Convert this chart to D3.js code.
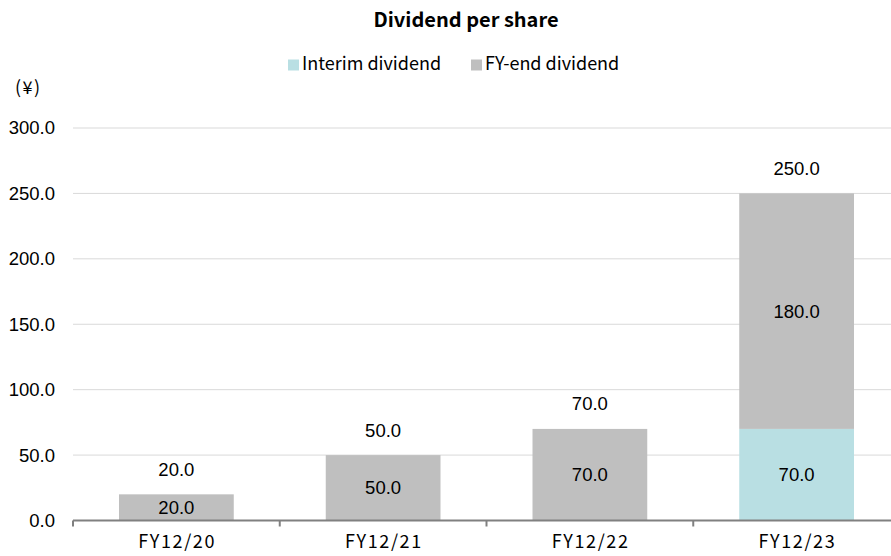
<!DOCTYPE html>
<html><head><meta charset="utf-8">
<script src="https://cdn.jsdelivr.net/npm/d3@7"></script>
<style>body{margin:0;background:#fff}</style>
</head><body><svg id="c" width="891" height="556"></svg>
<script>
const categories = ["FY12/20", "FY12/21", "FY12/22", "FY12/23"];
const interim = [0, 0, 0, 70];
const fyEnd = [20, 50, 70, 180];
const totals = [20, 50, 70, 250];
const yTicks = [0, 50, 100, 150, 200, 250, 300];
const seriesNames = ["Interim dividend", "FY-end dividend"];
const colors = ["#b9dfe3", "#bfbfbf"];

const svg = d3.select("#c");
const gothic = "'Noto Sans CJK JP', 'Noto Sans', sans-serif";
const num = "'Liberation Sans', Arial, sans-serif";
const numSize = 18.5;
const pLeft = 73, pRight = 900, pTop = 128, pBottom = 520.5;

const x = d3.scaleBand().domain(categories).range([pLeft, pRight]).paddingInner(0.445).paddingOuter(0.2225);
const y = d3.scaleLinear().domain([0, 300]).range([pBottom, pTop]);

// gridlines
svg.append("g").selectAll("line").data(yTicks.filter(d => d > 0)).join("line")
  .attr("x1", pLeft).attr("x2", 891).attr("y1", d => y(d)).attr("y2", d => y(d))
  .attr("stroke", "#d9d9d9").attr("stroke-width", 1);

// y axis labels
const ya = svg.append("g").attr("transform", `translate(${pLeft},0)`)
  .call(d3.axisLeft(y).tickValues(yTicks).tickFormat(d3.format(".1f")).tickSize(0).tickPadding(18));
ya.select(".domain").remove();
ya.selectAll("text").attr("font-family", num).attr("font-size", numSize).attr("fill", "#000");

// stacked data
const rows = categories.map((c, i) => ({cat: c, interim: interim[i], fyEnd: fyEnd[i]}));
const stack = d3.stack().keys(["interim", "fyEnd"])(rows);

stack.forEach((s, si) => {
  svg.append("g").selectAll("rect").data(s).join("rect")
    .attr("x", d => x(d.data.cat)).attr("width", x.bandwidth())
    .attr("y", d => y(d[1])).attr("height", d => y(d[0]) - y(d[1]))
    .attr("fill", colors[si]);
  svg.append("g").selectAll("text").data(s.filter(d => d[1] - d[0] > 0)).join("text")
    .attr("x", d => x(d.data.cat) + x.bandwidth() / 2)
    .attr("y", d => (y(d[0]) + y(d[1])) / 2)
    .attr("dy", "0.35em").attr("text-anchor", "middle")
    .attr("font-family", num).attr("font-size", numSize).attr("fill", "#000")
    .text(d => d3.format(".1f")(d[1] - d[0]));
});

// totals
svg.append("g").selectAll("text").data(categories).join("text")
  .attr("x", d => x(d) + x.bandwidth() / 2)
  .attr("y", (d, i) => y(totals[i]) - 25)
  .attr("dy", "0.35em").attr("text-anchor", "middle")
  .attr("font-family", num).attr("font-size", numSize).attr("fill", "#000")
  .text((d, i) => d3.format(".1f")(totals[i]));

// x axis
const xa = svg.append("g").attr("transform", `translate(0,${pBottom})`)
  .call(d3.axisBottom(x).tickSize(0).tickPadding(15));
xa.select(".domain").remove();
xa.selectAll("text").attr("font-family", gothic).attr("font-size", 18)
  .attr("letter-spacing", 1.6).attr("dx", 0.8).attr("fill", "#000");
svg.append("line").attr("x1", pLeft).attr("x2", 891).attr("y1", pBottom).attr("y2", pBottom)
  .attr("stroke", "#808080").attr("stroke-width", 2);
const step = x.step();
svg.append("g").selectAll("line").data(d3.range(categories.length + 1)).join("line")
  .attr("x1", i => pLeft + i * step).attr("x2", i => pLeft + i * step)
  .attr("y1", pBottom).attr("y2", pBottom + 6)
  .attr("stroke", "#808080").attr("stroke-width", 2);

// title
svg.append("text").attr("x", 466).attr("y", 20).attr("dy", "0.35em").attr("text-anchor", "middle")
  .attr("font-family", gothic).attr("font-weight", "bold").attr("font-size", 20).text("Dividend per share");

// legend
const leg = [{x: 288, tx: 302}, {x: 471, tx: 485}];
seriesNames.forEach((n, i) => {
  svg.append("rect").attr("x", leg[i].x).attr("y", 59.5).attr("width", 11).attr("height", 11).attr("fill", colors[i]);
  svg.append("text").attr("x", leg[i].tx).attr("y", 64).attr("dy", "0.35em")
    .attr("font-family", gothic).attr("font-size", 18).attr("fill", "#000").text(n);
});

// unit
svg.append("text").attr("x", 15).attr("y", 88).attr("dy", "0.35em")
  .attr("font-family", gothic).attr("font-size", 18).attr("letter-spacing", 1.5).attr("fill", "#000").text("(¥)");
</script></body></html>
